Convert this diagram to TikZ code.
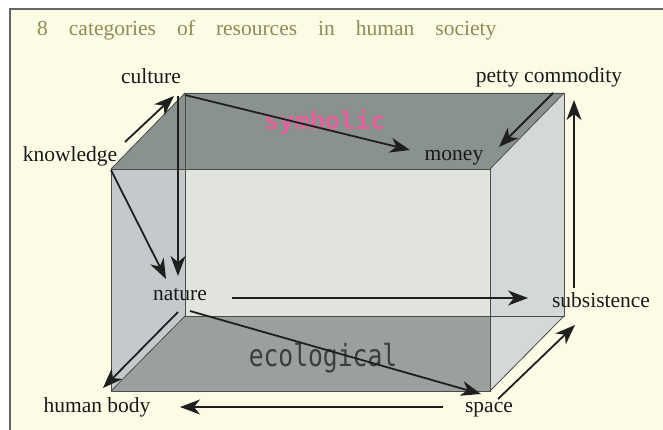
\documentclass[tikz,border=0pt]{standalone}
\usepackage{fontspec}
\setmainfont{Liberation Serif}
\newfontfamily\gothfont{DejaVu Sans Mono}
\usetikzlibrary{arrows.meta,calc}
\definecolor{bgcream}{HTML}{FCFCE6}
\definecolor{titlecol}{HTML}{8F8B55}
\definecolor{topface}{HTML}{8A928D}
\definecolor{botface}{HTML}{9AA19C}
\definecolor{leftface}{HTML}{C4CACB}
\definecolor{rightface}{HTML}{D4D8D8}
\definecolor{backface}{HTML}{E0E4DC}
\definecolor{edgecol}{HTML}{4A4D4B}
\definecolor{symbcol}{HTML}{E0639E}
\definecolor{ecocol}{HTML}{3A3F3C}
\begin{document}
\begin{tikzpicture}[x=1pt,y=-1pt,
  lbl/.style={anchor=base,inner sep=0pt,font=\fontsize{21.5}{24}\selectfont,text=black!90},
  arr/.style={draw=black!88,line width=1.8pt,-{Stealth[length=20pt,width=15pt,inset=6pt]}},
  edge/.style={draw=edgecol,line width=0.8pt}]
\useasboundingbox (0,0) rectangle (663,430);
\fill[white] (0,0) rectangle (663,430);
\fill[bgcream] (10,9) rectangle (663,430);
\draw[gray!80!black,line width=1.4pt] (10,430) -- (10,9) -- (663,9);
% cube corners
\coordinate (ftl) at (111,169);
\coordinate (ftr) at (490,169);
\coordinate (fbl) at (111,391);
\coordinate (fbr) at (490,391);
\coordinate (btl) at (185,93);
\coordinate (btr) at (564,93);
\coordinate (bbl) at (185,316);
\coordinate (bbr) at (564,316);
% faces
\fill[backface] (btl) rectangle (bbr);
\fill[leftface] (ftl) -- (btl) -- (bbl) -- (fbl) -- cycle;
\fill[topface] (ftl) -- (btl) -- (btr) -- (ftr) -- cycle;
\fill[botface] (fbl) -- (bbl) -- (bbr) -- (fbr) -- cycle;
\fill[rightface] (ftr) -- (btr) -- (bbr) -- (fbr) -- cycle;
% edges
\draw[edge] (btl) rectangle (bbr);
\draw[edge] (ftl) rectangle (fbr);
\draw[edge] (ftl) -- (btl) (ftr) -- (btr) (fbl) -- (bbl) (fbr) -- (bbr);
% face texts
\node[inner sep=0pt,anchor=base,text=symbcol] (symbolic) at (325,130)
  {\scalebox{1.1}[1.05]{\gothfont\bfseries\fontsize{23}{26}\selectfont symbolic}};
\node[inner sep=0pt,anchor=base,text=ecocol] (ecological) at (323,366)
  {\scalebox{0.85}[1.05]{\gothfont\fontsize{29}{32}\selectfont ecological}};
% title
\node[anchor=base west,inner sep=0pt,text=titlecol,font=\fontsize{21.5}{24}\selectfont] (title) at (37,36)
  {8\hspace{21pt}categories\hspace{21pt}of\hspace{21pt}resources\hspace{21pt}in\hspace{21pt}human\hspace{21pt}society};
% labels
\node[lbl] (culture) at (151,84) {culture};
\node[lbl] (petty) at (549,83) {petty commodity};
\node[lbl] (knowledge) at (70,162) {knowledge};
\node[lbl] (money) at (454,161) {money};
\node[lbl] (nature) at (180,300) {nature};
\node[lbl] (subsistence) at (601,307) {subsistence};
\node[lbl] (humanbody) at (97,412) {human body};
\node[lbl] (space) at (489,412) {space};
% connector ends
\coordinate (knowledge-out1) at (125,142);
\coordinate (culture-in) at (174,96);
\coordinate (culture-out1) at (185,95);
\coordinate (money-in1) at (410,150);
\coordinate (culture-out2) at (178,96);
\coordinate (nature-in1) at (178,276);
\coordinate (knowledge-out2) at (111,170);
\coordinate (nature-in2) at (166,279);
\coordinate (petty-out) at (553,93);
\coordinate (money-in2) at (499,147);
\coordinate (subsistence-out) at (574,288);
\coordinate (petty-in) at (574,100);
\coordinate (nature-out1) at (232,298);
\coordinate (subsistence-in1) at (528,298);
\coordinate (nature-out2) at (178,312);
\coordinate (humanbody-in1) at (103,388);
\coordinate (nature-out3) at (190,311);
\coordinate (space-in) at (481,394);
\coordinate (space-out1) at (498,399);
\coordinate (subsistence-in2) at (575,325);
\coordinate (space-out2) at (443,407);
\coordinate (humanbody-in2) at (180,407);
% connectors
\draw[arr] (knowledge-out1) -- (culture-in);
\draw[arr] (culture-out1) -- (money-in1);
\draw[arr] (culture-out2) -- (nature-in1);
\draw[arr] (knowledge-out2) -- (nature-in2);
\draw[arr] (petty-out) -- (money-in2);
\draw[arr] (subsistence-out) -- (petty-in);
\draw[arr] (nature-out1) -- (subsistence-in1);
\draw[arr] (nature-out2) -- (humanbody-in1);
\draw[arr] (nature-out3) -- (space-in);
\draw[arr] (space-out1) -- (subsistence-in2);
\draw[arr] (space-out2) -- (humanbody-in2);
\end{tikzpicture}
\end{document}
